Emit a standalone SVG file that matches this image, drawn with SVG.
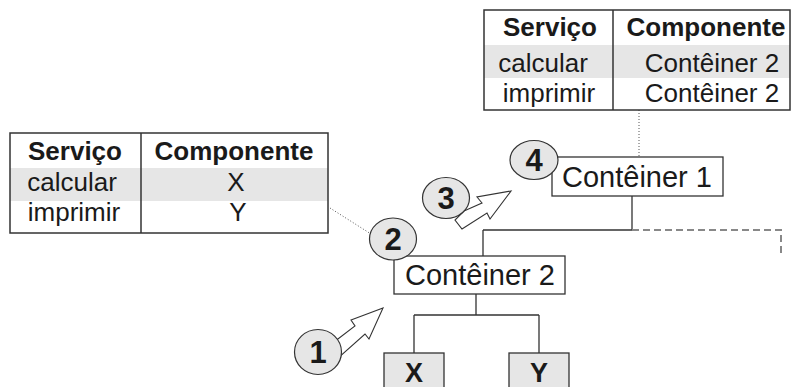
<svg xmlns="http://www.w3.org/2000/svg" width="795" height="387" viewBox="0 0 795 387">
  <style>
    text { font-family: "Liberation Sans", Arial, sans-serif; fill: #1a1a1a; }
    .hd { font-weight: bold; font-size: 26px; text-anchor: middle; }
    .cell { font-size: 26px; text-anchor: middle; }
    .box { fill: #ffffff; stroke: #333333; stroke-width: 1.3; }
    .leaf { fill: #e6e6e6; stroke: #333333; stroke-width: 1.3; }
    .lbl { font-size: 29px; text-anchor: middle; }
    .leaftxt { font-weight: bold; font-size: 27px; text-anchor: middle; }
    .tbl { fill: none; stroke: #333333; stroke-width: 1.5; }
    .shade { fill: #e6e6e6; }
    .step { fill: #e6e6e6; stroke: #333333; stroke-width: 1.2; }
    .num { font-weight: bold; font-size: 31px; text-anchor: middle; }
    .arrow { fill: #ffffff; stroke: #333333; stroke-width: 1.1; stroke-linejoin: miter; }
    .wire { fill: none; stroke: #333333; stroke-width: 1.3; }
    .dash { fill: none; stroke: #888888; stroke-width: 2; stroke-dasharray: 7 4; }
    .dot { fill: none; stroke: #555555; stroke-width: 1; stroke-dasharray: 1 2; }
  </style>

  <!-- connectors -->
  <g id="connectors">
    <path class="wire" d="M632 196 V230 M483 230 H632 M483 230 V256"/>
    <path class="dash" d="M632 230 H781 V256"/>
    <path class="wire" d="M476 294 V315 M414 315 H539 M414 315 V353 M539 315 V353"/>
    <path class="dot" d="M639 110 V157"/>
    <path class="dot" d="M330 208 L371 234"/>
  </g>

  <!-- service table of Contêiner 1 -->
  <g id="table-c1">
    <rect class="shade" x="484" y="45" width="306" height="33"/>
    <rect class="tbl" x="484" y="10" width="306" height="100"/>
    <line class="tbl" x1="613" y1="10" x2="613" y2="110"/>
    <text class="hd" x="550" y="36">Serviço</text>
    <text class="hd" x="706" y="36">Componente</text>
    <text class="cell" x="543" y="72">calcular</text>
    <text class="cell" x="712" y="72">Contêiner 2</text>
    <text class="cell" x="549" y="102">imprimir</text>
    <text class="cell" x="712" y="102">Contêiner 2</text>
  </g>

  <!-- service table of Contêiner 2 -->
  <g id="table-c2">
    <rect class="shade" x="10" y="168" width="318" height="33"/>
    <rect class="tbl" x="10" y="133" width="318" height="100"/>
    <line class="tbl" x1="141" y1="133" x2="141" y2="233"/>
    <text class="hd" x="75" y="160">Serviço</text>
    <text class="hd" x="234" y="160">Componente</text>
    <text class="cell" x="72" y="191">calcular</text>
    <text class="cell" x="236" y="191">X</text>
    <text class="cell" x="74" y="221">imprimir</text>
    <text class="cell" x="238" y="221">Y</text>
  </g>

  <!-- containers and components -->
  <g id="container1">
    <rect class="box" x="552" y="157" width="171" height="39"/>
    <text class="lbl" x="637" y="187">Contêiner 1</text>
  </g>
  <g id="container2">
    <rect class="box" x="394" y="256" width="171" height="38"/>
    <text class="lbl" x="480" y="285">Contêiner 2</text>
  </g>
  <g id="comp-x">
    <rect class="leaf" x="384" y="353" width="60" height="40"/>
    <text class="leaftxt" x="414" y="382">X</text>
  </g>
  <g id="comp-y">
    <rect class="leaf" x="509" y="353" width="60" height="40"/>
    <text class="leaftxt" x="539" y="382">Y</text>
  </g>

  <!-- step arrows -->
  <g id="arrow1">
    <polygon class="arrow" points="334,342 355,326 351,320 383,308 369,339 365,334 336,360"/>
  </g>
  <g id="arrow3">
    <polygon class="arrow" points="464,211 482,203 477,197 511,191 490,219 487,213 462,229 455,220"/>
  </g>

  <!-- numbered steps -->
  <g id="step1">
    <ellipse class="step" cx="318" cy="352" rx="23.5" ry="22.5"/>
    <text class="num" x="318" y="363">1</text>
  </g>
  <g id="step2">
    <ellipse class="step" cx="393" cy="239" rx="23.5" ry="21"/>
    <text class="num" x="393" y="250">2</text>
  </g>
  <g id="step3">
    <ellipse class="step" cx="446" cy="198" rx="23.5" ry="20.5"/>
    <text class="num" x="446" y="209">3</text>
  </g>
  <g id="step4">
    <ellipse class="step" cx="534" cy="160" rx="24" ry="19.5"/>
    <text class="num" x="534" y="171">4</text>
  </g>
</svg>
